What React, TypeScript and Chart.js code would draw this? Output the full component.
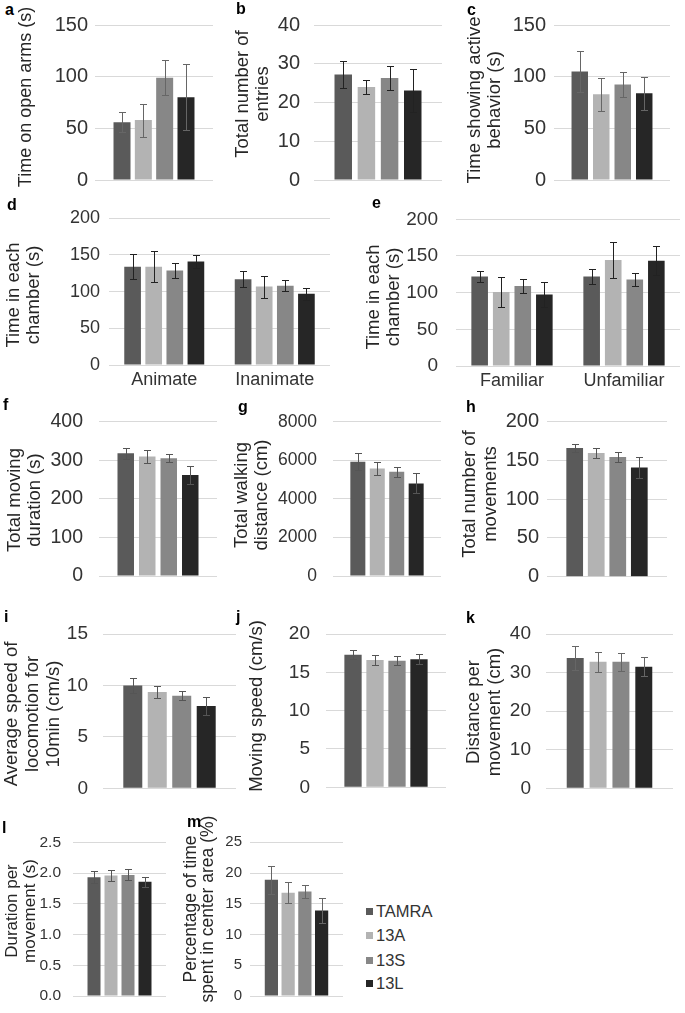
import React, { useEffect, useRef } from 'react';
import { Chart, registerables } from 'chart.js';
Chart.register(...registerables);

const FONT = '"Liberation Sans", Arial, sans-serif';
const TEXT = '#333333';
const TITLE = '#262626';
const GRID = '#d9d9d9';

const groups = ['TAMRA', '13A', '13S', '13L'];
const groupColors = ['#5a5a5a', '#b3b3b3', '#878787', '#262626'];

// ---- data ----
const aMeans = [56, 58, 99, 80];
const aErrs = [10, 16, 17, 32];
const bMeans = [27.2, 24, 26.3, 23.1];
const bErrs = [3.4, 1.9, 3.2, 5.5];
const cMeans = [105, 83, 92.5, 84];
const cErrs = [20, 16, 12, 16];

const dCats = ['Animate', 'Inanimate'];
const dTamra = [134, 117];
const dTamraErr = [17, 11];
const d13A = [134, 107];
const d13AErr = [21, 15];
const d13S = [129, 108];
const d13SErr = [10, 7.5];
const d13L = [141, 97];
const d13LErr = [8.5, 8];

const eCats = ['Familiar', 'Unfamiliar'];
const eTamra = [122, 122];
const eTamraErr = [8, 10];
const e13A = [101, 144.5];
const e13AErr = [20, 24];
const e13S = [109, 118];
const e13SErr = [9, 9];
const e13L = [97.5, 143.5];
const e13LErr = [17, 20];

const fMeans = [318, 310, 305, 262];
const fErrs = [14, 16, 10, 24];
const gMeans = [5930, 5580, 5400, 4800];
const gErrs = [450, 340, 260, 520];
const hMeans = [166, 159.5, 154.5, 141];
const hErrs = [5, 6, 7, 13];
const iMeans = [10, 9.35, 9.0, 8.0];
const iErrs = [0.7, 0.55, 0.45, 0.85];
const jMeans = [17.3, 16.6, 16.5, 16.7];
const jErrs = [0.6, 0.6, 0.6, 0.65];
const kMeans = [33.8, 32.8, 32.8, 31.5];
const kErrs = [3.1, 2.6, 2.3, 2.5];
const lMeans = [1.93, 1.96, 1.97, 1.86];
const lErrs = [0.1, 0.09, 0.09, 0.08];
const mMeans = [18.9, 16.8, 17.0, 13.9];
const mErrs = [2.3, 1.75, 1.1, 2.0];

const single = (arr: number[]) => arr.map((v) => [v]);

type Spec = {
  letter: string; lx: number; ly: number;
  L: number; T: number; R: number; B: number;
  title: string[]; tx: number; ty: number; ts: number; tlh: number;
  tickSize: number; tickPad: number; max: number; step: number; dec: number;
  cats: string[]; means: number[][]; errs: number[][];
  catPct: number; barPct: number; errColor: string;
};

const base = { ts: 18.5, dec: 0 };

const specs: Spec[] = [
  { ...base, letter: 'a', lx: 5, ly: 1.5, L: 95, T: 25, R: 213, B: 180, title: ['Time on open arms (s)'], tx: 26, ty: 97, ts: 18, tlh: 20,
    tickSize: 20, tickPad: 7, max: 150, step: 50, cats: [''], means: single(aMeans), errs: single(aErrs), catPct: 0.723, barPct: 0.797, errColor: '#666' },
  { ...base, letter: 'b', lx: 236, ly: 0.5, L: 314, T: 25, R: 442, B: 180, title: ['Total number of', 'entries'], tx: 243, ty: 94, tlh: 20,
    tickSize: 20, tickPad: 14, max: 40, step: 10, cats: [''], means: single(bMeans), errs: single(bErrs), catPct: 0.724, barPct: 0.755, errColor: '#222' },
  { ...base, letter: 'c', lx: 467, ly: 1.5, L: 554, T: 25, R: 670, B: 180, title: ['Time showing active', 'behavior (s)'], tx: 475, ty: 100, tlh: 20,
    tickSize: 20, tickPad: 8, max: 150, step: 50, cats: [''], means: single(cMeans), errs: single(cErrs), catPct: 0.741, barPct: 0.767, errColor: '#666' },
  { ...base, letter: 'd', lx: 7, ly: 196.5, L: 109, T: 218.3, R: 330, B: 365, title: ['Time in each', 'chamber (s)'], tx: 14, ty: 295, tlh: 19.5,
    tickSize: 18, tickPad: 9, max: 200, step: 50, cats: dCats, means: [dTamra, d13A, d13S, d13L], errs: [dTamraErr, d13AErr, d13SErr, d13LErr], catPct: 0.764, barPct: 0.79, errColor: '#222' },
  { ...base, letter: 'e', lx: 372, ly: 194.5, L: 456, T: 219.3, R: 680, B: 366, title: ['Time in each', 'chamber (s)'], tx: 374, ty: 297, tlh: 20,
    tickSize: 19, tickPad: 18, max: 200, step: 50, cats: eCats, means: [eTamra, e13A, e13S, e13L], errs: [eTamraErr, e13AErr, e13SErr, e13LErr], catPct: 0.77, barPct: 0.77, errColor: '#222' },
  { ...base, letter: 'f', lx: 3, ly: 396.5, L: 99, T: 421.7, R: 217, B: 576, title: ['Total moving', 'duration (s)'], tx: 15, ty: 500, tlh: 19.5,
    tickSize: 19.5, tickPad: 16, max: 400, step: 100, cats: [''], means: single(fMeans), errs: single(fErrs), catPct: 0.729, barPct: 0.767, errColor: '#555' },
  { ...base, letter: 'g', lx: 238, ly: 398.5, L: 333, T: 421.7, R: 441, B: 576, title: ['Total walking', 'distance (cm)'], tx: 242, ty: 495, tlh: 20,
    tickSize: 17.5, tickPad: 16, max: 8000, step: 2000, cats: [''], means: single(gMeans), errs: single(gErrs), catPct: 0.72, barPct: 0.772, errColor: '#555' },
  { ...base, letter: 'h', lx: 466, ly: 398.5, L: 547, T: 421.7, R: 667, B: 576.7, title: ['Total number of', 'movements'], tx: 470, ty: 494, tlh: 21,
    tickSize: 20, tickPad: 8, max: 200, step: 50, cats: [''], means: single(hMeans), errs: single(hErrs), catPct: 0.718, barPct: 0.776, errColor: '#555' },
  { ...base, letter: 'i', lx: 4, ly: 608.5, L: 103, T: 634, R: 236, B: 788.3, title: ['Average speed of', 'locomotion for', '10min (cm/s)'], tx: 12, ty: 714, tlh: 21,
    tickSize: 19, tickPad: 15, max: 15, step: 5, cats: [''], means: single(iMeans), errs: single(iErrs), catPct: 0.736, barPct: 0.776, errColor: '#555' },
  { ...base, letter: 'j', lx: 236, ly: 608.5, L: 326, T: 634, R: 446, B: 787.3, title: ['Moving speed (cm/s)'], tx: 257, ty: 706, tlh: 20,
    tickSize: 19, tickPad: 16, max: 20, step: 5, cats: [''], means: single(jMeans), errs: single(jErrs), catPct: 0.733, barPct: 0.786, errColor: '#555' },
  { ...base, letter: 'k', lx: 466, ly: 609.5, L: 546, T: 634, R: 673, B: 788.3, title: ['Distance per', 'movement (cm)'], tx: 474, ty: 712, tlh: 21,
    tickSize: 19, tickPad: 15, max: 40, step: 10, cats: [''], means: single(kMeans), errs: single(kErrs), catPct: 0.72, barPct: 0.742, errColor: '#666' },
  { ...base, letter: 'l', lx: 2, ly: 819.5, L: 73, T: 842.3, R: 166, B: 996, title: ['Duration per', 'movement (s)'], tx: 12, ty: 911, ts: 17, tlh: 18,
    tickSize: 15.5, tickPad: 12, max: 2.5, step: 0.5, dec: 1, cats: [''], means: single(lMeans), errs: single(lErrs), catPct: 0.731, barPct: 0.765, errColor: '#555' },
  { ...base, letter: 'm', lx: 187, ly: 813.5, L: 250, T: 842.3, R: 343, B: 996, title: ['Percentage of time', 'spent in center area (%)'], tx: 191, ty: 909, ts: 17.5, tlh: 17,
    tickSize: 15, tickPad: 8, max: 25, step: 5, cats: [''], means: single(mMeans), errs: single(mErrs), catPct: 0.72, barPct: 0.79, errColor: '#666' },
];

function Panel({ spec }: { spec: Spec }) {
  const ref = useRef<HTMLCanvasElement>(null);
  const multi = spec.cats.length > 1;
  const cl = Math.round(spec.tx - spec.tlh / 2);
  // Chart.js reserves half a tick label plus the tick padding above/below the plot
  const need = spec.tickSize * 0.6 + spec.tickPad + 2;
  const ct = Math.floor(Math.min(spec.T - need, spec.ty - 108));
  const padTop = spec.T - ct;
  const XH = multi ? 30 : 0;
  const padRight = 2;
  const cb = Math.ceil(Math.max(spec.B + XH + 4, spec.B + need, spec.ty + 108));
  const padBottom = cb - spec.B - XH;
  const cw = Math.round(spec.R + padRight - cl);
  const ch = cb - ct;

  useEffect(() => {
    const errorBars = {
      id: 'errorBars',
      afterDatasetsDraw(chart: any) {
        const ctx = chart.ctx;
        const y = chart.scales.y;
        chart.data.datasets.forEach((ds: any, di: number) => {
          const meta = chart.getDatasetMeta(di);
          meta.data.forEach((bar: any, i: number) => {
            const v = ds.data[i];
            const e = spec.errs[di][i];
            const top = Math.round(y.getPixelForValue(v + e)) + 0.5;
            const bot = Math.round(y.getPixelForValue(v - e)) + 0.5;
            const x = Math.round(bar.x) + 0.5;
            ctx.save();
            ctx.strokeStyle = spec.errColor;
            ctx.lineWidth = 1;
            ctx.beginPath();
            ctx.moveTo(x, top);
            ctx.lineTo(x, bot);
            ctx.moveTo(x - 3.5, top);
            ctx.lineTo(x + 3.5, top);
            ctx.moveTo(x - 3.5, bot);
            ctx.lineTo(x + 3.5, bot);
            ctx.stroke();
            ctx.restore();
          });
        });
      },
    };
    // vertical axis title, drawn rotated, one line after another to the right
    const axisTitle = {
      id: 'axisTitle',
      afterDraw(chart: any) {
        const ctx = chart.ctx;
        ctx.save();
        ctx.fillStyle = TITLE;
        ctx.font = `${spec.ts}px ${FONT}`;
        ctx.textAlign = 'center';
        ctx.textBaseline = 'middle';
        spec.title.forEach((line, k) => {
          ctx.save();
          ctx.translate(spec.tx - cl + k * spec.tlh, spec.ty - ct);
          ctx.rotate(-Math.PI / 2);
          ctx.fillText(line, 0, 0);
          ctx.restore();
        });
        ctx.restore();
      },
    };
    const chart = new Chart(ref.current as HTMLCanvasElement, {
      type: 'bar',
      data: {
        labels: spec.cats,
        datasets: groups.map((g, i) => ({
          label: g,
          data: spec.means[i],
          backgroundColor: groupColors[i],
          borderWidth: 0,
          categoryPercentage: spec.catPct,
          barPercentage: spec.barPct,
        })),
      },
      options: {
        animation: false,
        responsive: false,
        maintainAspectRatio: false,
        layout: { padding: { left: 0, top: padTop, right: padRight, bottom: padBottom } },
        plugins: { legend: { display: false }, tooltip: { enabled: false }, title: { display: false } },
        scales: {
          x: {
            display: multi,
            grid: { display: false, drawTicks: false },
            border: { display: false },
            ticks: { display: multi, font: { family: FONT, size: 18 }, color: TEXT, padding: 4 },
            afterFit: (a: any) => { a.height = XH; },
          },
          y: {
            min: 0,
            max: spec.max,
            ticks: {
              stepSize: spec.step,
              font: { family: FONT, size: spec.tickSize },
              color: TEXT,
              padding: spec.tickPad,
              callback: (v: any) => Number(v).toFixed(spec.dec),
            },
            grid: { color: GRID, lineWidth: 1, drawTicks: false },
            border: { display: false },
            title: { display: false },
            afterFit: (a: any) => { a.width = spec.L - cl; },
          },
        },
      },
      plugins: [errorBars, axisTitle],
    } as any);
    return () => chart.destroy();
  }, []);

  return (
    <>
      <canvas
        ref={ref}
        width={cw}
        height={ch}
        style={{ position: 'absolute', left: cl, top: ct, width: cw, height: ch }}
      />
      <div
        style={{
          position: 'absolute', left: spec.lx, top: spec.ly, fontFamily: FONT, fontWeight: 'bold',
          fontSize: 16, lineHeight: '16px', color: '#000',
        }}
      >
        {spec.letter}
      </div>
    </>
  );
}

const legendRows = [911.7, 935.7, 960, 983.3];

export default function App() {
  return (
    <div style={{ position: 'absolute', left: 0, top: 0, width: 685, height: 1013, background: '#fff', overflow: 'hidden' }}>
      {specs.map((s) => (
        <Panel key={s.letter} spec={s} />
      ))}
      {groups.map((g, i) => (
        <div key={g} style={{ position: 'absolute', left: 366, top: legendRows[i] - 10, height: 20, display: 'flex', alignItems: 'center', fontFamily: FONT, fontSize: 16.5, color: TEXT }}>
          <span style={{ display: 'inline-block', width: 7, height: 7, background: groupColors[i], marginRight: 3 }} />
          <span>{g}</span>
        </div>
      ))}
    </div>
  );
}
